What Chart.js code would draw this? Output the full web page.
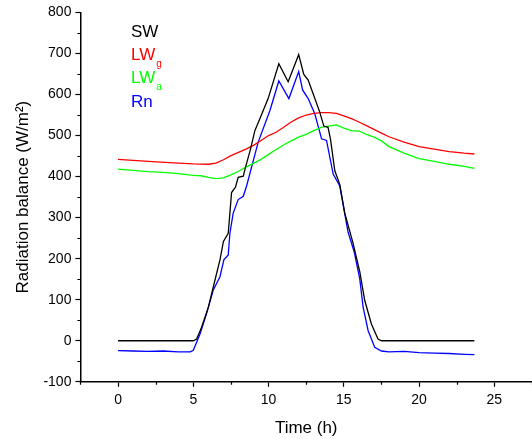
<!DOCTYPE html>
<html>
<head>
<meta charset="utf-8">
<script src="https://cdn.jsdelivr.net/npm/chart.js@4.4.1/dist/chart.umd.min.js"></script>
<style>
  html, body { margin: 0; padding: 0; background: #fff; }
</style>
</head>
<body>
<canvas id="grafico" width="532" height="439"></canvas>
<script>
// ================== Datos ==================
const swTime   = [0, 5, 5.22, 5.55, 6.0, 6.44, 6.77, 7.0, 7.32, 7.43, 7.54, 7.8, 7.98, 8.32, 8.47, 8.8, 9.09, 9.38, 9.97, 10.68, 11.3, 12.0, 12.34, 12.63, 12.96, 13.4, 13.67, 13.95, 14.11, 14.4, 14.73, 15.06, 15.61, 16.06, 16.39, 16.83, 17.27, 17.5, 23.67];
const swValues = [0, 0, 4, 33, 82, 148, 197, 242, 262, 311, 361, 374, 398, 401, 423, 467, 512, 537, 590, 675, 631, 697, 649, 635, 602, 557, 523, 520, 492, 414, 381, 311, 238, 168, 98, 41, 4, 0, 0];

const lwgTime   = [0, 2, 4, 5, 6, 6.5, 7, 7.5, 8, 8.5, 9, 9.5, 10, 10.5, 11, 11.5, 12, 12.5, 13, 13.5, 14, 14.5, 15, 15.5, 16, 16.5, 17, 17.5, 18, 19, 20, 21, 22, 23, 23.67];
const lwgValues = [442, 437, 433, 431, 430, 433, 441, 451, 459, 467, 476, 488, 500, 508, 520, 533, 543, 550, 554, 556, 556, 554, 548, 541, 533, 524, 515, 506, 497, 484, 473, 467, 461, 457, 455];

const lwaTime   = [0, 1, 2, 3, 4, 5, 5.5, 6, 6.5, 7, 7.5, 8, 8.5, 9, 9.5, 10, 10.5, 11, 11.5, 12, 12.5, 13, 13.5, 14, 14.5, 15, 15.5, 16, 16.5, 17, 17.5, 18, 18.5, 19, 20, 21, 22, 23, 23.67];
const lwaValues = [418, 415, 412, 410, 407, 403, 402, 398, 395, 397, 404, 413, 423, 432, 442, 454, 466, 477, 487, 496, 503, 512, 520, 523, 526, 518, 512, 511, 503, 496, 487, 473, 465, 457, 444, 437, 430, 425, 420];

const rnTime   = [0, 1, 2, 3, 4, 4.8, 5.0, 5.44, 5.88, 6.32, 6.77, 7.03, 7.32, 7.43, 7.65, 7.98, 8.32, 8.54, 9.31, 10.09, 10.68, 11.35, 12.0, 12.26, 12.63, 13.07, 13.52, 13.85, 14.29, 14.73, 15.28, 15.7, 16.06, 16.28, 16.61, 17.05, 17.5, 18, 19, 20, 21, 22, 23, 23.67];
const rnValues = [-24, -25, -26, -25, -27, -27, -23, 16, 66, 123, 156, 197, 209, 262, 311, 344, 352, 377, 484, 561, 633, 590, 656, 611, 590, 553, 492, 488, 406, 377, 265, 215, 150, 82, 25, -16, -25, -27, -26, -29, -30, -31, -33, -34];

const xTicks = [0, 5, 10, 15, 20, 25];
const xMinor = [-2.5, 2.5, 7.5, 12.5, 17.5, 22.5, 27.5];
const yTicks = [-100, 0, 100, 200, 300, 400, 500, 600, 700, 800];
const yMinor = [-50, 50, 150, 250, 350, 450, 550, 650, 750];

// ================== Util ==================
function toPoints(times, values) {
  return times.map((t, i) => ({ x: t, y: values[i] }));
}

const FUENTE = "'Liberation Sans', Arial, sans-serif";

// Ticks menores + leyenda de texto
const extras = {
  id: "extras",
  afterDraw(chart) {
    const { ctx, scales: { x, y } } = chart;
    ctx.save();
    ctx.strokeStyle = "#000";
    ctx.lineWidth = 1.2;
    ctx.beginPath();
    xMinor.forEach(v => {
      const px = Math.round(x.getPixelForValue(v)) + 0.5;
      ctx.moveTo(px, x.top); ctx.lineTo(px, x.top + 3);
    });
    yMinor.forEach(v => {
      const py = Math.round(y.getPixelForValue(v)) + 0.5;
      ctx.moveTo(y.right, py); ctx.lineTo(y.right - 3, py);
    });
    ctx.stroke();

    // leyenda
    const items = [
      { txt: "SW", sub: "", color: "#000000" },
      { txt: "LW", sub: "g", color: "#ff0000" },
      { txt: "LW", sub: "a", color: "#00ff00" },
      { txt: "Rn", sub: "", color: "#0000ff" }
    ];
    const lx = 131;
    const ly = [32, 55, 78, 102];
    ctx.textBaseline = "middle";
    ctx.textAlign = "left";
    items.forEach((it, i) => {
      ctx.fillStyle = it.color;
      ctx.font = "17px " + FUENTE;
      ctx.fillText(it.txt, lx, ly[i]);
      if (it.sub) {
        const w = ctx.measureText(it.txt).width;
        ctx.font = "10px " + FUENTE;
        ctx.fillText(it.sub, lx + w + 1, ly[i] + 9);
      }
    });
    ctx.restore();
  }
};

const ctx = document.getElementById("grafico").getContext("2d");
const chart = new Chart(ctx, {
  type: "line",
  data: {
    datasets: [
      { label: "SW",  data: toPoints(swTime, swValues),   borderColor: "#000000" },
      { label: "LWg", data: toPoints(lwgTime, lwgValues), borderColor: "#ff0000" },
      { label: "LWa", data: toPoints(lwaTime, lwaValues), borderColor: "#00ff00" },
      { label: "Rn",  data: toPoints(rnTime, rnValues),   borderColor: "#0000ff" }
    ]
  },
  options: {
    responsive: false,
    animation: false,
    layout: { padding: { top: 11, right: 0, left: 9, bottom: 0 } },
    elements: {
      point: { radius: 0 },
      line: { borderWidth: 1.3, tension: 0 }
    },
    plugins: {
      legend: { display: false },
      tooltip: { enabled: false }
    },
    scales: {
      x: {
        type: "linear",
        min: -2.5,
        max: 27.5,
        afterBuildTicks: s => { s.ticks = xTicks.map(v => ({ value: v })); },
        ticks: { color: "#000", font: { size: 14, family: FUENTE }, padding: 5, maxRotation: 0 },
        grid: { drawOnChartArea: false, tickLength: 5, tickColor: "#000", tickWidth: 1.2 },
        border: { color: "#000", width: 1.5 },
        title: { display: true, text: "Time (h)", color: "#000", font: { size: 17, family: FUENTE }, padding: { top: 5, bottom: 0 } }
      },
      y: {
        type: "linear",
        min: -100,
        max: 800,
        afterBuildTicks: s => { s.ticks = yTicks.map(v => ({ value: v })); },
        ticks: { color: "#000", font: { size: 14, family: FUENTE }, padding: 4 },
        grid: { drawOnChartArea: false, tickLength: 5, tickColor: "#000", tickWidth: 1.2 },
        border: { color: "#000", width: 1.5 },
        title: { display: true, text: "Radiation balance (W/m²)", color: "#000", font: { size: 17, family: FUENTE }, padding: { bottom: 6 } }
      }
    }
  },
  plugins: [extras]
});
</script>
</body>
</html>
